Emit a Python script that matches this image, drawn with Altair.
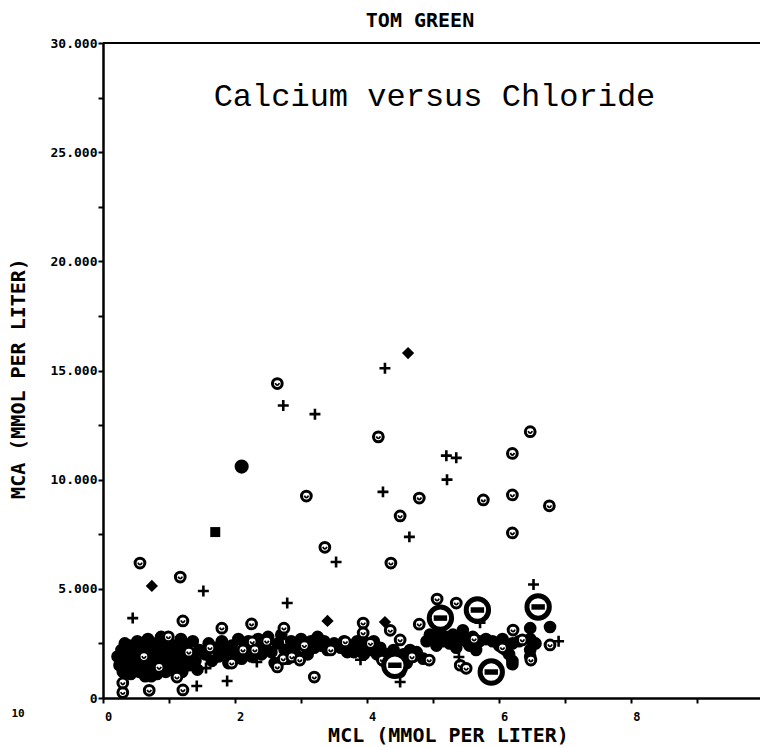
import altair as alt
import pandas as pd

# ---------------- data ----------------
# circle-with-smile markers
smile_x = [2.64, 3.08, 4.17, 4.36, 4.50, 4.79, 3.36, 6.47, 6.20, 6.20, 5.76, 6.20, 6.76,
           0.56, 1.17, 1.21, 1.80, 2.25, 2.74, 3.20, 3.94, 3.94, 4.35, 4.50, 4.79,
           0.30, 0.30, 0.70, 1.21, 1.12, 0.99, 5.06, 5.35, 4.94, 5.41, 5.50, 6.21,
           6.35, 6.48, 6.77, 2.26, 2.64, 2.73, 2.86, 2.98, 2.12, 2.30, 3.67, 4.23,
           4.39, 4.68, 0.62, 0.85, 1.30, 1.62, 1.95, 2.48, 3.05, 3.45, 4.05, 5.62, 6.05]
smile_y = [14.40, 9.25, 11.96, 6.18, 8.34, 9.16, 6.90, 12.20, 11.20, 9.30, 9.07, 7.56, 8.80,
           6.18, 5.54, 3.53, 3.20, 3.39, 3.20, 0.96, 3.43, 2.98, 3.10, 2.66, 3.38,
           0.25, 0.69, 0.35, 0.37, 0.96, 2.80, 4.53, 4.35, 1.74, 1.50, 1.36, 3.11,
           2.66, 1.74, 2.43, 2.57, 1.42, 1.79, 1.88, 1.74, 2.20, 2.20, 2.57, 1.74,
           1.28, 1.88, 1.90, 1.40, 2.10, 2.30, 1.60, 2.60, 2.40, 2.20, 2.50, 2.70, 2.30]

# plus markers
plus_x = [4.27, 2.73, 3.21, 4.24, 5.20, 5.35, 5.21, 4.64, 3.53, 1.52, 0.45, 2.79,
          1.42, 1.88, 1.56, 2.33, 4.50, 5.39, 6.52, 6.90, 5.71, 3.90, 0.95]
plus_y = [15.10, 13.40, 13.00, 9.44, 11.10, 11.00, 10.00, 7.38, 6.23, 4.90, 3.66, 4.35,
          0.55, 0.78, 1.37, 1.65, 0.73, 1.88, 5.20, 2.60, 3.45, 1.75, 1.20]

# filled diamonds
diamond_x = [4.62, 0.74, 3.40, 4.27]
diamond_y = [15.80, 5.13, 3.53, 3.48]

# filled square
square_x = [1.70]
square_y = [7.60]

# large filled dot
dot_x = [2.10]
dot_y = [10.60]

# large circle with bar
big_x = [5.11, 5.67, 5.88, 6.59, 4.42]
big_y = [3.66, 4.03, 1.19, 4.17, 1.50]

# dense overlapping filled markers
blob_x = [0.22, 0.25, 0.28, 0.30, 0.32, 0.35, 0.38, 0.40, 0.42, 0.45, 0.47, 0.50, 0.52,
          0.55, 0.57, 0.60, 0.62, 0.64, 0.66, 0.68, 0.70, 0.72, 0.75, 0.77, 0.80, 0.82,
          0.84, 0.87, 0.90, 0.92, 0.95, 0.97, 1.00, 1.02, 1.05, 1.08, 1.10, 1.13, 1.16,
          1.18, 1.20, 1.23, 1.26, 1.30, 1.33, 1.36, 1.40, 1.43, 1.46, 0.33, 0.48, 0.58,
          0.73, 0.88, 0.63, 0.53, 0.43, 0.78, 0.93, 1.06,
          1.55, 1.60, 1.65, 1.70, 1.75, 1.80, 1.85, 1.90, 1.95, 2.00, 2.05, 2.10, 2.15,
          2.20, 2.25, 2.30, 2.35, 2.40, 2.45, 2.50, 2.55, 2.60, 2.65, 2.70, 2.75, 2.80,
          2.85, 2.90, 2.95, 3.00, 3.05, 3.10, 3.15, 3.20, 3.25, 3.30, 3.35, 3.40, 3.50,
          3.60, 3.65, 3.70,
          3.75, 3.80, 3.85, 3.90, 3.95, 4.00, 4.05, 4.10, 4.15, 4.20, 4.25, 4.30, 4.35,
          4.40, 4.45, 4.50, 4.55, 4.60, 4.65, 4.70, 4.75, 4.85,
          4.90, 4.95, 5.00, 5.05, 5.10, 5.15, 5.20, 5.25, 5.30, 5.35, 5.40, 5.45, 5.50,
          5.55, 5.60, 5.65, 5.70, 5.80, 5.90, 6.00, 6.05, 6.10, 6.15, 6.20, 6.20, 6.30,
          6.47, 6.47, 6.47, 6.47, 6.55, 6.77, 6.20]
blob_y = [1.90, 1.50, 2.20, 1.20, 1.70, 2.00, 1.40, 2.40, 1.10, 1.80, 2.10, 1.50, 2.60,
          1.20, 2.00, 1.70, 2.30, 1.00, 1.40, 2.70, 1.90, 2.20, 1.30, 1.60, 2.50, 1.10,
          2.00, 1.50, 2.30, 1.80, 1.20, 2.60, 1.60, 2.10, 1.30, 2.40, 1.90, 1.50, 2.20,
          2.70, 1.20, 1.80, 2.40, 1.50, 2.00, 2.60, 1.70, 1.30, 2.20, 2.50, 1.30, 2.50,
          1.00, 2.80, 1.90, 1.70, 1.60, 2.10, 1.40, 1.80,
          2.00, 2.50, 1.70, 2.30, 1.90, 2.60, 2.10, 1.60, 2.40, 2.00, 2.70, 1.80, 2.30,
          2.60, 1.90, 2.20, 2.70, 2.00, 2.40, 2.80, 2.10, 1.60, 2.50, 2.90, 2.20, 1.80,
          2.60, 2.30, 1.90, 2.70, 2.40, 2.00, 2.60, 2.30, 2.80, 2.40, 2.60, 2.20, 2.50,
          2.30, 2.60, 2.10,
          2.40, 2.10, 2.60, 2.30, 2.00, 2.50, 2.20, 2.60, 2.00, 2.30, 1.70, 2.00, 1.50,
          2.20, 1.80, 1.20, 2.00, 1.60, 2.20, 1.90, 2.10, 1.80,
          2.60, 2.90, 2.70, 2.40, 3.00, 2.60, 2.80, 2.50, 2.90, 2.30, 2.70, 3.10, 2.60,
          2.40, 2.80, 2.20, 2.60, 2.70, 2.60, 2.40, 2.70, 2.20, 2.00, 1.70, 2.50, 2.60,
          2.20, 2.70, 3.20, 1.90, 2.50, 3.25, 1.55]

# axis ticks / labels
x_ticks = [0, 1, 2, 3, 4, 5, 6, 7, 8, 9]
y_ticks = [0, 2.5, 5, 7.5, 10, 12.5, 15, 17.5, 20, 22.5, 25, 27.5, 30]

TITLE = "TOM GREEN"
SUBTITLE = "Calcium versus Chloride"
X_TITLE = "MCL (MMOL PER LITER)"
Y_TITLE = "MCA (MMOL PER LITER)"
STRAY = "10"

MONO = "DejaVu Sans Mono"


def frame(xs, ys):
    return pd.DataFrame({"MCL": xs, "MCA": ys})


x_axis = alt.Axis(
    values=x_ticks, format="d",
    labelExpr="datum.value % 2 == 0 ? datum.label : ''",
    grid=False, domainColor="black", domainWidth=2.5,
    tickColor="black", tickWidth=2, tickSize=5,
    labelFont=MONO, labelFontWeight="bold", labelFontSize=12, labelColor="black",
    labelPadding=8, labelOffset=5, labelFlush=False, labelOverlap=False, labelBound=False,
    title=X_TITLE, titleFont=MONO, titleFontWeight="bold", titleFontSize=20,
    titleColor="black", titleX=345, titleY=37, titleAlign="center", titleBaseline="middle",
)
y_axis = alt.Axis(
    values=y_ticks,
    labelExpr="datum.value == 0 ? '0' : (datum.value % 5 == 0 ? format(datum.value, '.3f') : '')",
    grid=False, domainColor="black", domainWidth=2.5,
    tickColor="black", tickWidth=2, tickSize=5,
    labelFont=MONO, labelFontWeight="bold", labelFontSize=13, labelColor="black",
    labelPadding=1, labelFlush=False, labelOverlap=False, labelBound=False,
    title=Y_TITLE, titleFont=MONO, titleFontWeight="bold", titleFontSize=20,
    titleColor="black", titleAngle=270, titleX=-85, titleY=335,
    titleAlign="center", titleBaseline="middle",
)

X = alt.X("MCL:Q", scale=alt.Scale(domain=[0, 9.95], nice=False, zero=False), axis=x_axis)
Y = alt.Y("MCA:Q", scale=alt.Scale(domain=[0, 30], nice=False, zero=False), axis=y_axis)


def pts(df, **kw):
    base = dict(opacity=1, clip=False)
    base.update(kw)
    return alt.Chart(df).mark_point(**base).encode(x=X, y=Y)


blob = pts(frame(blob_x, blob_y), shape="circle", filled=True, color="black", size=160)
rings = pts(frame(smile_x, smile_y), shape="circle", filled=True, fill="white",
            stroke="black", strokeWidth=3, size=95)
smiles = pts(frame(smile_x, smile_y), shape="M-0.42,-0.1 Q0,0.75 0.42,-0.1",
             filled=False, color="black", strokeWidth=1.8, size=95)
plus = pts(frame(plus_x, plus_y), shape="M-1,0L1,0M0,-1L0,1", filled=False,
           color="black", strokeWidth=2.6, size=120)
diam = pts(frame(diamond_x, diamond_y), shape="diamond", filled=True, color="black", size=150)
sq = pts(frame(square_x, square_y), shape="square", filled=True, color="black", size=100)
dot = pts(frame(dot_x, dot_y), shape="circle", filled=True, color="black", size=200)
big_ring = pts(frame(big_x, big_y), shape="circle", filled=True, fill="white",
               stroke="black", strokeWidth=5, size=500)
big_bar = pts(frame(big_x, big_y), shape="M-0.6,0L0.6,0", filled=False,
              color="black", strokeWidth=5.5, size=500)

top_line = alt.Chart(pd.DataFrame({"v": [30]})).mark_rule(
    color="black", strokeWidth=2).encode(y=alt.Y("v:Q", scale=alt.Scale(domain=[0, 30]), axis=y_axis))

subtitle = alt.Chart(pd.DataFrame({"MCL": [5.02], "MCA": [27.1], "t": [SUBTITLE]})).mark_text(
    font="Liberation Mono", fontSize=32, color="black", align="center", baseline="alphabetic"
).encode(x=X, y=Y, text="t:N")

title_text = alt.Chart(pd.DataFrame({"t": [TITLE]})).mark_text(
    font=MONO, fontWeight="bold", fontSize=20, color="black", align="center", baseline="alphabetic"
).encode(x=alt.value(317), y=alt.value(-16), text="t:N")

stray = alt.Chart(pd.DataFrame({"t": [STRAY]})).mark_text(
    font=MONO, fontWeight="bold", fontSize=11, color="black", align="center", baseline="middle"
).encode(x=alt.value(-85), y=alt.value(671), text="t:N")

chart = alt.layer(
    top_line, blob, rings, smiles, plus, diam, sq, dot, big_ring, big_bar, subtitle,
    title_text, stray
).properties(
    width=657, height=655,
    autosize=alt.AutoSizeParams(type="none"),
    padding={"left": 103, "top": 43, "right": 0, "bottom": 49},
).configure_view(stroke=None).configure(background="white")

chart.save("out.html", embed_options={"renderer": "svg", "actions": False})
